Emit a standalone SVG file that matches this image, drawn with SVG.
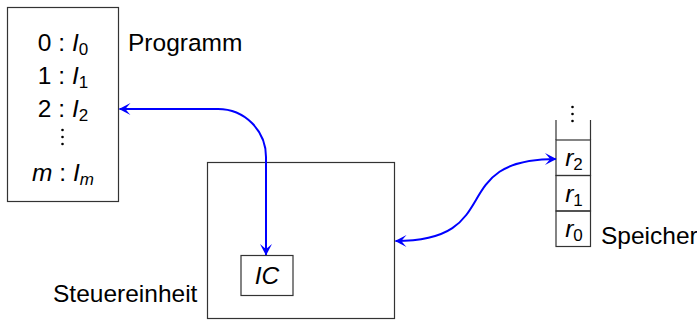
<svg xmlns="http://www.w3.org/2000/svg" width="697" height="320" viewBox="0 0 697 320">
<style>
.box{fill:none;stroke:#333;stroke-width:1.2}
.t{font-family:"Liberation Sans",Arial,sans-serif;font-size:24.5px;fill:#000}
.it{font-style:italic}
.sub{font-size:17px}
.dot{fill:#000}
.conn{fill:none;stroke:#0000ff;stroke-width:2}
</style>
<defs>
<marker id="ah" viewBox="-13 -7 14 14" refX="0" refY="0" markerWidth="14" markerHeight="14" markerUnits="userSpaceOnUse" orient="auto-start-reverse">
<path d="M0.5,0 L-11,-6 Q-7,-1.4 -6,0 Q-7,1.4 -11,6 Z" fill="#0000ff"/>
</marker>
</defs>
<rect width="697" height="320" fill="#fff"/>
<g id="program">
<rect class="box" x="7.5" y="7.5" width="111" height="194"/>
<text class="t" x="63" y="51" text-anchor="middle">0 : <tspan class="it">I</tspan><tspan class="sub" dy="4">0</tspan></text>
<text class="t" x="63" y="84" text-anchor="middle">1 : <tspan class="it">I</tspan><tspan class="sub" dy="4">1</tspan></text>
<text class="t" x="63" y="117" text-anchor="middle">2 : <tspan class="it">I</tspan><tspan class="sub" dy="4">2</tspan></text>
<circle class="dot" cx="62.5" cy="130" r="1.3"/>
<circle class="dot" cx="62.5" cy="137" r="1.3"/>
<circle class="dot" cx="62.5" cy="144" r="1.3"/>
<text class="t" x="63" y="181" text-anchor="middle"><tspan class="it">m</tspan> : <tspan class="it">I</tspan><tspan class="sub it" dy="4">m</tspan></text>
<text class="t" x="128" y="51">Programm</text>
</g>
<g id="control">
<rect class="box" x="207.5" y="162.5" width="187" height="156"/>
<text class="t" x="53" y="302">Steuereinheit</text>
</g>
<g id="ic">
<rect class="box" x="241" y="255.5" width="52" height="40"/>
<text class="t it" x="267" y="284" text-anchor="middle">IC</text>
</g>
<g id="memory">
<circle class="dot" cx="572.5" cy="107" r="1.3"/>
<circle class="dot" cx="572.5" cy="114" r="1.3"/>
<circle class="dot" cx="572.5" cy="121" r="1.3"/>
<path class="box" d="M556,120 V140 M590.5,120 V140"/>
<rect class="box" x="556" y="140" width="34.5" height="35.5"/>
<rect class="box" x="556" y="175.5" width="34.5" height="35.5"/>
<rect class="box" x="556" y="211" width="34.5" height="35.5"/>
<text class="t" x="574" y="166" text-anchor="middle"><tspan class="it">r</tspan><tspan class="sub" dy="4">2</tspan></text>
<text class="t" x="574" y="201.5" text-anchor="middle"><tspan class="it">r</tspan><tspan class="sub" dy="4">1</tspan></text>
<text class="t" x="574" y="237" text-anchor="middle"><tspan class="it">r</tspan><tspan class="sub" dy="4">0</tspan></text>
<text class="t" x="601" y="244">Speicher</text>
</g>
<g id="connectors">
<path class="conn" d="M119.5,109 H218 C244.5,109 266,130.5 266,157 V255" marker-start="url(#ah)" marker-end="url(#ah)"/>
<path class="conn" d="M395.5,241 C508,241 444,159 556,159" marker-start="url(#ah)" marker-end="url(#ah)"/>
</g>
</svg>
